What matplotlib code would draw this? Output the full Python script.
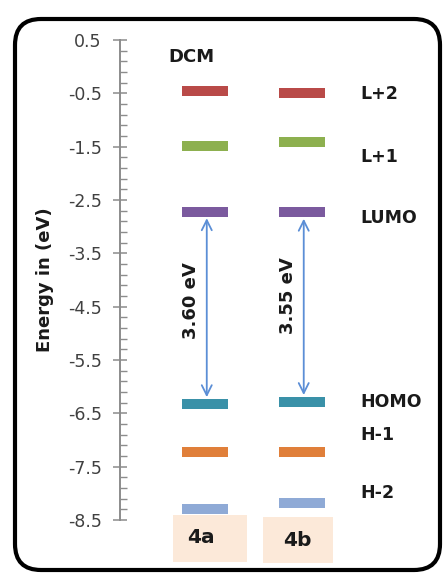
import matplotlib
matplotlib.use("Agg")
import matplotlib.pyplot as plt
from matplotlib.patches import FancyBboxPatch, Rectangle
from matplotlib.transforms import IdentityTransform

plt.rcParams['font.family'] = ['DejaVu Sans']

# molecules and orbital energies (eV)
molecules = ['4a', '4b']
orbitals = ['H-2', 'H-1', 'HOMO', 'LUMO', 'L+1', 'L+2']
energy_4a = [-8.30, -7.22, -6.32, -2.72, -1.48, -0.45]
energy_4b = [-8.19, -7.22, -6.28, -2.73, -1.41, -0.50]
gaps = ['3.60 eV', '3.55 eV']
label_y = [-8.00, -6.90, -6.28, -2.84, -1.69, -0.51]
colors = ['#8FAAD6', '#E07F3A', '#3A91A8', '#7B5A9E', '#8DB04F', '#B94A48']

fig = plt.figure(figsize=(4.44, 5.75), dpi=100)
ax = fig.add_axes([0.270, 0.0957, 0.698, 0.8348])

half = 0.235
gap_shift = [0.14, 0.22]
for i, energies in enumerate([energy_4a, energy_4b]):
    for e, c in zip(energies, colors):
        ax.plot([i - half, i + half], [e, e], color=c, lw=7.2, solid_capstyle='butt')
    lumo = energies[orbitals.index('LUMO')]
    homo = energies[orbitals.index('HOMO')]
    ax.annotate('', xy=(i + 0.02, homo + 0.07), xytext=(i + 0.02, lumo - 0.07),
                arrowprops=dict(arrowstyle='<->', color='#5B8ED6', lw=1.3,
                                mutation_scale=18))
    ax.text(i - 0.14, (lumo + homo) / 2 + gap_shift[i], gaps[i], rotation=90,
            ha='center', va='center', fontsize=13, fontweight='bold', color='#1a1a1a')

for name, y in zip(orbitals, label_y):
    ax.text(1.6, y, name, ha='left', va='center', fontsize=12.5,
            fontweight='bold', color='#1a1a1a')

ax.text(-0.38, 0.18, 'DCM', ha='left', va='center', fontsize=13,
        fontweight='bold', color='#1a1a1a')

# molecule name boxes under the axis
xt = ax.get_xaxis_transform()
box_left = [-0.33, -0.40]
box_width = [0.763, 0.72]
box_bottom = [-0.0875, -0.0896]
box_height = [0.098, 0.096]
text_x = [-0.04, 0.954]
text_y = [-0.0375, -0.042]
for i, m in enumerate(molecules):
    ax.add_patch(Rectangle((i + box_left[i], box_bottom[i]), box_width[i], box_height[i],
                           transform=xt, facecolor='#FCE9D9', edgecolor='none',
                           clip_on=False, zorder=0))
    ax.text(text_x[i], text_y[i], m, transform=xt, ha='center', va='center',
            fontsize=14.5, fontweight='bold', color='#1a1a1a')

ax.set_xlim(-0.876, 2.32)
ax.set_ylim(-8.5, 0.5)
ax.set_yticks([0.5, -0.5, -1.5, -2.5, -3.5, -4.5, -5.5, -6.5, -7.5, -8.5])
ax.set_yticklabels(['0.5', '-0.5', '-1.5', '-2.5', '-3.5', '-4.5', '-5.5',
                    '-6.5', '-7.5', '-8.5'])
ax.set_yticks([0.5 - 0.2 * k for k in range(46)], minor=True)
ax.tick_params(axis='y', which='major', direction='inout', length=10,
               width=1.1, color='#8c8c8c', labelsize=12.5, labelcolor='#404040', pad=8)
ax.tick_params(axis='y', which='minor', direction='in', length=5,
               width=1.0, color='#8c8c8c')
ax.set_xticks([])
for s in ['top', 'right', 'bottom']:
    ax.spines[s].set_visible(False)
ax.spines['left'].set_color('#8c8c8c')
ax.spines['left'].set_linewidth(1.4)
ax.set_ylabel('Energy in (eV)', fontsize=13, fontweight='bold', color='#1a1a1a',
              labelpad=10)
ax.patch.set_visible(False)

# rounded outer frame (pixel coordinates)
frame = FancyBboxPatch((15, 5), 425, 551, boxstyle='round,pad=0,rounding_size=26',
                       transform=IdentityTransform(), facecolor='none',
                       edgecolor='black', linewidth=3.0)
fig.patches.append(frame)

fig.savefig('out.png', dpi=100)
